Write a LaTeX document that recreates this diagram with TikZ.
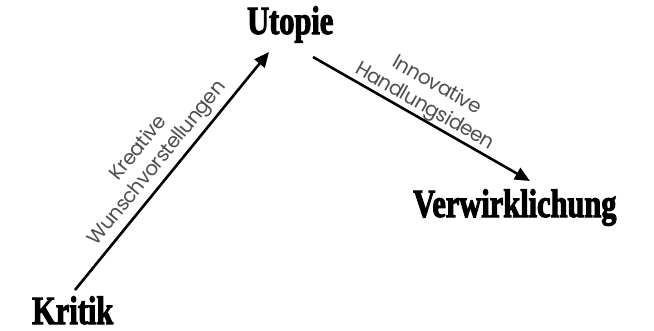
\documentclass[tikz,border=0pt]{standalone}
\usepackage{fontspec}
\usetikzlibrary{arrows.meta}
\newfontfamily\headfont{Liberation Serif}[FakeStretch=0.76,FakeBold=2.5]
\newfontfamily\labfont{Poppins}[LetterSpace=-3]
\definecolor{labgray}{HTML}{4E4E4E}
\tikzset{
  head/.style={inner sep=0pt, anchor=base west, font=\headfont\bfseries\fontsize{40}{40}\selectfont},
  lab/.style={inner sep=0pt, align=center, text=labgray, font=\labfont\fontsize{20}{24}\selectfont},
  arr/.style={line width=2.6pt, -{Triangle[length=15pt,width=13pt]}}
}
\begin{document}
\begin{tikzpicture}[x=1pt,y=-1pt]
\useasboundingbox (0,0) rectangle (654,330);
\node[head] (utopie) at (247,34) {Utopie};
\node[head] (verw) at (413,217) {Verwirklichung};
\node[head] (kritik) at (32,324) {Kritik};
\coordinate (a1s) at (75,290);
\coordinate (a1e) at (269,52);
\coordinate (a2s) at (313,57);
\coordinate (a2e) at (530,181);
\draw[arr] (a1s) -- (a1e);
\draw[arr] (a2s) -- (a2e);
\node[lab, rotate=50.8] (l1) at (148.5,156) {Kreative\\Wunschvorstellungen};
\node[lab, rotate=-29.7] (l2) at (430.5,96.5) {Innovative\\Handlungsideen};
\end{tikzpicture}
\end{document}
